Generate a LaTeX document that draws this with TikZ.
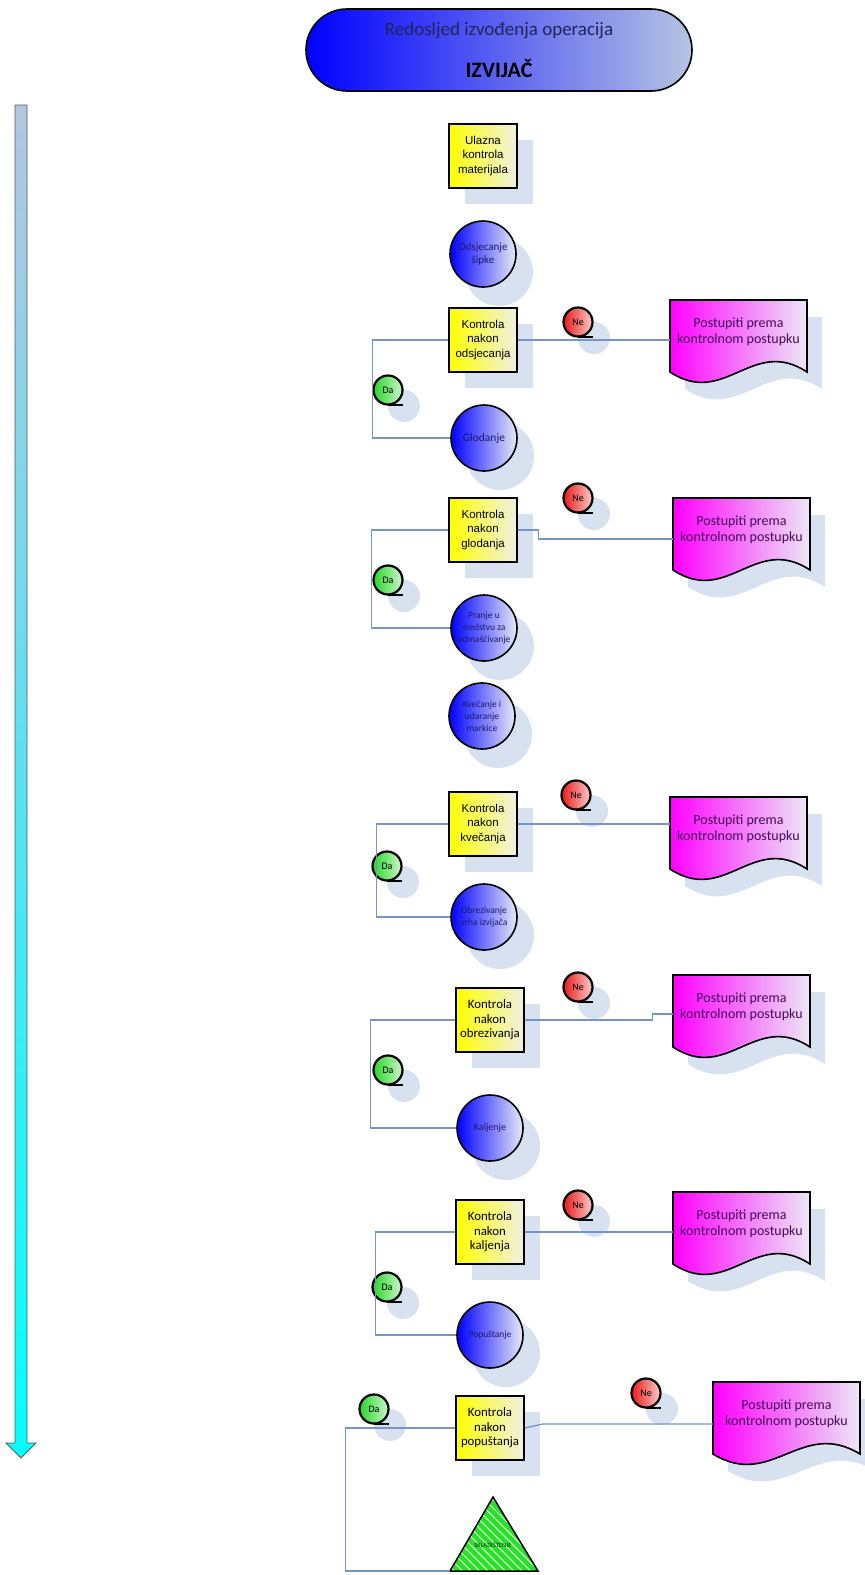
\documentclass[tikz,border=0pt]{standalone}
\usepackage{fontspec}
\setmainfont{Carlito}
\newfontfamily\arialf{Liberation Sans}
\usetikzlibrary{patterns.meta}
\definecolor{shadowc}{RGB}{216,225,239}
\definecolor{linec}{RGB}{118,148,196}
\definecolor{navy}{RGB}{25,25,110}
\definecolor{boxr}{RGB}{240,240,228}
\definecolor{circr}{RGB}{232,234,246}
\definecolor{docr}{RGB}{236,232,246}
\definecolor{doctext}{RGB}{70,10,90}
\definecolor{trig}{RGB}{40,225,40}
\definecolor{ner}{RGB}{235,25,25}
\definecolor{nel}{RGB}{250,205,205}
\definecolor{dag}{RGB}{40,215,40}
\definecolor{dal}{RGB}{205,245,205}
\definecolor{titler}{RGB}{182,196,226}
\definecolor{titlet}{RGB}{35,35,90}
\definecolor{arrtop}{RGB}{178,198,224}
\tikzset{
  shad/.style={fill=shadowc, draw=none},
  kbox/.style={draw=black, line width=1.6pt, left color=yellow, right color=boxr,
    minimum width=68pt, minimum height=64pt, inner sep=1pt, align=center,
    font=\arialf\fontsize{11.5}{14.5}\selectfont},
  kboxb/.style={kbox, font=\fontsize{12.8}{14.5}\selectfont},
  opc/.style={circle, draw=black, line width=1.6pt, left color=blue, right color=circr,
    minimum size=66pt, inner sep=0pt, align=center, text=navy},
  badge/.style={circle, draw=black, line width=2.2pt, minimum size=29pt, inner sep=0pt,
    font=\fontsize{10}{11}\selectfont},
  ne/.style={badge, left color=ner, right color=nel},
  da/.style={badge, left color=dag, right color=dal},
  conn/.style={draw=linec, line width=1.3pt},
  docf/.style={draw=black, line width=1.6pt, left color=magenta, right color=docr},
  doct/.style={align=center, text=doctext, inner sep=0pt, font=\fontsize{14}{16.5}\selectfont},
}
\newcommand\kbx[5]{% style, name, cx, cy, text
  \fill[shad] (#3-34+16,#4-32+16) rectangle ++(68,64);
  \node[#1] (#2) at (#3,#4) {#5};}
\newcommand\opn[5]{% name, cx, cy, font, text
  \fill[shad] (#2+16,#3+18) circle[radius=34];
  \node[opc, font=#4] (#1) at (#2,#3) {#5};}
\newcommand\bdg[5]{% name, cx, cy, style, text
  \fill[shad] (#2+16,#3+16) circle[radius=16];
  \node[#4] (#1) at (#2,#3) {#5};
  \draw[line width=2.2pt] ([yshift=1pt]#1.south) -- ++(15,0);}
\newcommand\docb[4]{% name, x1, ytop, width
  \fill[shad] (#2+15,#3+17) -- ++(#4,0) -- ++(0,72)
     .. controls (#2+15+0.6*#4,#3+17+36) and (#2+15+0.4*#4,#3+17+108) .. (#2+15,#3+17+72) -- cycle;
  \path[docf] (#2,#3) -- ++(#4,0) -- ++(0,72)
     .. controls (#2+0.6*#4,#3+36) and (#2+0.4*#4,#3+108) .. (#2,#3+72) -- cycle;
  \node[doct, minimum width=#4pt] (#1) at (#2+#4/2,#3+32) {Postupiti prema\\kontrolnom postupku};}
\begin{document}
\begin{tikzpicture}[x=1pt,y=-1pt]
\useasboundingbox (0,0) rectangle (865,1575);
\clip (0,0) rectangle (865,1575);

% title
\node[draw=black, line width=1.6pt, rounded corners=40.9pt, left color=blue, right color=titler,
  minimum width=386pt, minimum height=82pt, align=center] (title) at (499,50)
  {{\fontsize{19}{22}\selectfont\color{titlet}Redosljed izvođenja operacija}\\[20pt]
   {\fontsize{22}{24}\selectfont\bfseries IZVIJAČ}};

% time arrow
\shadedraw[top color=arrtop, bottom color=cyan, draw=gray!70!black, line width=0.8pt]
  (15,105) -- (27,105) -- (27,1443) -- (36,1443) -- (21,1458) -- (6,1443) -- (15,1443) -- cycle;

% row 1
\kbx{kbox}{b1}{483}{156}{Ulazna\\kontrola\\materijala}
\opn{c1}{483}{254}{\fontsize{11}{13}\selectfont}{Odsjecanje\\šipke}

% row 2
\kbx{kbox}{b2}{483}{340}{Kontrola\\nakon\\odsjecanja}
\bdg{n2}{578}{322}{ne}{Ne}
\docb{d2}{670}{300}{137}
\bdg{a2}{388}{390}{da}{Da}
\opn{c2}{484}{438}{\fontsize{11.5}{13}\selectfont}{Glodanje}

% row 3
\kbx{kbox}{b3}{483}{530}{Kontrola\\nakon\\glodanja}
\bdg{n3}{578}{498}{ne}{Ne}
\docb{d3}{673}{498}{137}
\bdg{a3}{388}{580}{da}{Da}
\opn{c3}{484}{628}{\fontsize{9.5}{12}\selectfont}{Pranje u\\sredstvu za\\odmašćivanje}

\opn{c4}{482}{716}{\fontsize{9.5}{12}\selectfont}{Kvečanje i\\udaranje\\markice}

% row 4
\kbx{kbox}{b4}{483}{824}{Kontrola\\nakon\\kvečanja}
\bdg{n4}{576}{795}{ne}{Ne}
\docb{d4}{670}{797}{137}
\bdg{a4}{387}{866}{da}{Da}
\opn{c5}{484}{917}{\fontsize{9.5}{12}\selectfont}{Obrezivanje\\vrha izvijača}

% row 5
\kbx{kboxb}{b5}{490}{1020}{Kontrola\\nakon\\obrezivanja}
\bdg{n5}{578}{987}{ne}{Ne}
\docb{d5}{673}{975}{137}
\bdg{a5}{388}{1070}{da}{Da}
\opn{c6}{490}{1128}{\fontsize{10}{12}\selectfont}{Kaljenje}

% row 6
\kbx{kboxb}{b6}{490}{1232}{Kontrola\\nakon\\kaljenja}
\bdg{n6}{578}{1205}{ne}{Ne}
\docb{d6}{673}{1192}{137}
\bdg{a6}{387}{1287}{da}{Da}
\opn{c7}{490}{1335}{\fontsize{9.5}{12}\selectfont}{Popuštanje}

% row 7
\kbx{kboxb}{b7}{490}{1428}{Kontrola\\nakon\\popuštanja}
\bdg{n7}{646}{1393}{ne}{Ne}
\docb{d7}{713}{1382}{147}
\bdg{a7}{374}{1409}{da}{Da}

% storage triangle
\path[draw=black, line width=1.5pt, preaction={fill=trig},
  pattern={Lines[angle=-45,distance=6pt,line width=1pt]}, pattern color=white!85!trig]
  (450,1571) coordinate (tl) -- (493,1497) -- (538,1571) -- cycle;
\node[font=\fontsize{6.5}{7}\selectfont, text=black!80!trig] (tri) at (493,1545) {SKLADIŠTENJE};

% connectors
\draw[conn] (b2.east) -- (b2.east -| d2.west);
\draw[conn] (b2.west) -- ++(-76,0) |- (c2.west);
\draw[conn] (b3.east) -- ++(21,0) |- ([yshift=-9pt]b3.east -| d3.west);
\draw[conn] (b3.west) -- ++(-77,0) |- (c3.west);
\draw[conn] (b4.east) -- (b4.east -| d4.west);
\draw[conn] (b4.west) -- ++(-72,0) |- (c5.west);
\draw[conn] (b5.east) -- ([xshift=-20pt]b5.east -| d5.west) |- ([yshift=6pt]b5.east -| d5.west);
\draw[conn] (b5.west) -- ++(-85,0) |- (c6.west);
\draw[conn] (b6.east) -- (b6.east -| d6.west);
\draw[conn] (b6.west) -- ++(-80,0) |- (c7.west);
\draw[conn] (b7.east) -- ++(18,-4) coordinate (k7) -- (k7 -| d7.west);
\draw[conn] (b7.west) -- ++(-110,0) |- (tl);
\end{tikzpicture}
\end{document}
